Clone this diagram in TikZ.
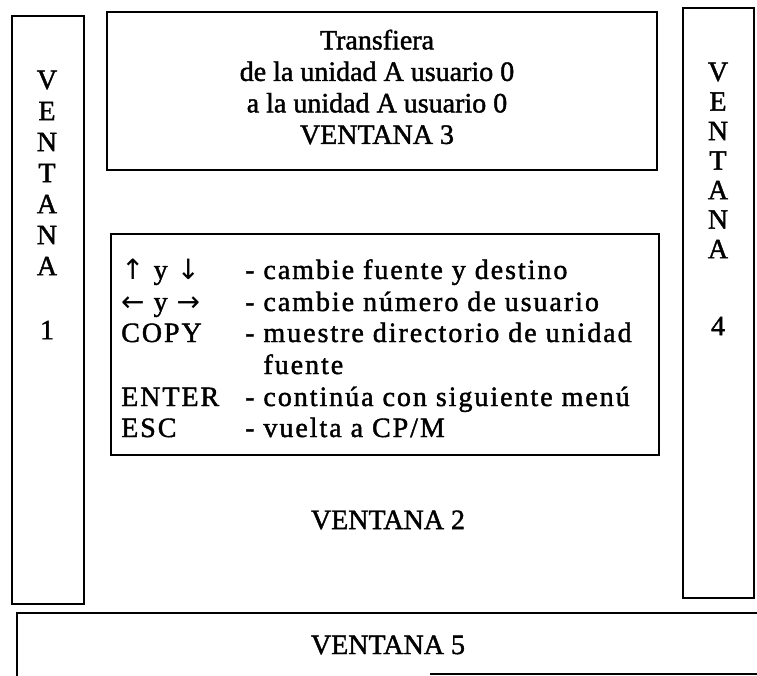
\documentclass[tikz,border=0pt]{standalone}
\usepackage{fontspec}
\setmainfont{Liberation Serif}[FakeBold=1.5]
\newfontfamily\flechas{DejaVu Sans}
\begin{document}
\begin{tikzpicture}[x=1pt,y=-1pt,
    ventana/.style={draw,line width=1.3pt},
    letra/.style={font=\fontsize{28}{31.5}\selectfont,inner sep=0pt},
    ancha/.style={letra,font=\fontsize{28}{31.5}\selectfont\addfontfeature{LetterSpace=7,FakeBold=1.5}},
    fila/.style={ancha,anchor=base west},
  ]
\useasboundingbox (0,0) rectangle (757,676);

\draw[ventana] (12,16) rectangle (84,604);
\draw[ventana] (107,12) rectangle (657,170);
\draw[ventana] (683,8) rectangle (754,598);
\draw[ventana] (111,234) rectangle (659,455);
\coordinate (v5a) at (757,613);
\coordinate (v5b) at (17,613);
\coordinate (v5c) at (17,676);
\coordinate (v5d) at (430,674);
\coordinate (v5e) at (757,674);
\draw[ventana] (v5a) -- (v5b) -- (v5c);
\draw[ventana] (v5d) -- (v5e);

\foreach \l [count=\i] in {V,E,N,T,A,N,A}
  \node[letra] (uno-\i) at (47,{49+31*\i}) {\l};
\node[letra] (uno-n) at (47,330) {1};
\foreach \l [count=\i] in {V,E,N,T,A,N,A}
  \node[letra] (cuatro-\i) at (718,{42.5+29.5*\i}) {\l};
\node[letra] (cuatro-n) at (718,326) {4};

\node[letra,align=center] (tres) at (377,87) {Transfiera\\de la unidad A usuario 0\\a la unidad A usuario 0\\VENTANA 3};

\node[fila] (k1) at (121,279) {{\flechas ↑} y {\flechas ↓}};
\node[fila] (k2) at (121,311) {{\flechas ←} y {\flechas →}};
\node[fila] (k3) at (121,342) {COPY};
\node[fila] (k5) at (121,406) {ENTER};
\node[fila] (k6) at (121,437) {ESC};
\node[fila] (d1) at (245,279) {- cambie fuente y destino};
\node[fila] (d2) at (245,311) {- cambie número de usuario};
\node[fila] (d3) at (245,342) {- muestre directorio de unidad};
\node[fila] (d4) at (245,374) {\phantom{- }fuente};
\node[fila] (d5) at (245,406) {- continúa con siguiente menú};
\node[fila] (d6) at (245,437) {- vuelta a CP/M};

\node[letra] (dos) at (388,520) {VENTANA 2};
\node[letra] (cinco) at (388,645) {VENTANA 5};
\end{tikzpicture}
\end{document}
